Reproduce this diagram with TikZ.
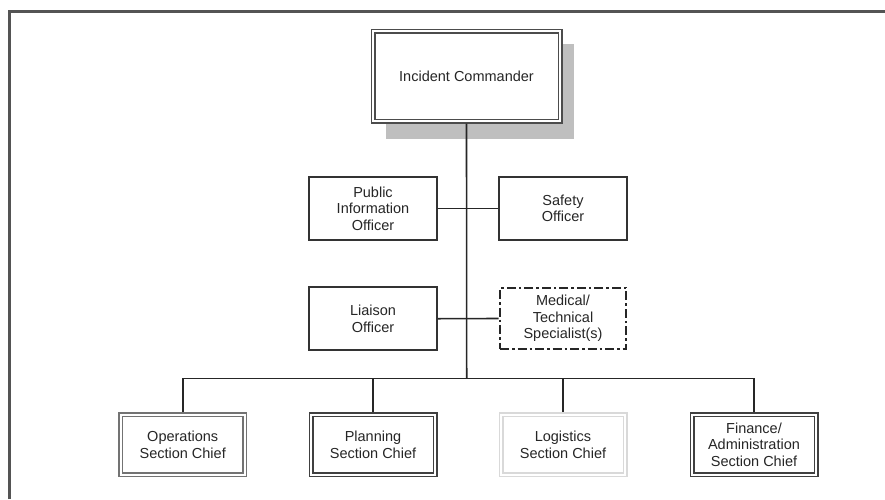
\documentclass[tikz,border=0pt]{standalone}
\usepackage{fontspec}
\setmainfont{Liberation Sans}
\begin{document}
\begin{tikzpicture}[x=1pt,y=-1pt,
  lbl/.style={align=center,text=black!85,font=\fontsize{14.5}{16.5}\selectfont,inner sep=0pt},
  plainbox/.style={lbl,draw=black!80,line width=1.5pt,fill=white,minimum width=128pt,minimum height=63pt},
  medbox/.style={lbl,draw=black!85,line width=2.8pt,dash pattern=on 9pt off 3pt on 2.5pt off 3pt,minimum width=126pt,minimum height=61pt},
  dbox/.style={lbl,fill=white,line width=1.3pt,double=white,double distance=2.4pt,outer sep=2.5pt},
  chiefbox/.style={dbox,minimum width=124pt,minimum height=60pt},
  link/.style={draw=black!85,line width=1.6pt}]
\useasboundingbox (0,0) rectangle (885,499);
% frame
\draw[black!67,line width=3pt] (9.5,499) -- (9.5,11.3) -- (885,11.3);
% shadow and commander
\fill[black!25] (386,44) rectangle (574,139);
\node[dbox,draw=black!70,minimum width=187pt,minimum height=90pt] (ic) at (466.5,76) {Incident Commander};
% command staff
\node[plainbox] (pio) at (373,208.5) {Public\\Information\\Officer};
\node[plainbox] (safe) at (563,208.5) {Safety\\Officer};
\node[plainbox] (liai) at (373,318.7) {Liaison\\Officer};
\node[medbox] (med) at (563,318.5) {Medical/\\Technical\\Specialist(s)};
% general staff
\node[chiefbox,draw=black!55] (ops) at (182.7,444.7) {Operations\\Section Chief};
\node[chiefbox,draw=black!75] (plan) at (373,444.7) {Planning\\Section Chief};
\node[chiefbox,draw=black!15] (logi) at (563,444.7) {Logistics\\Section Chief};
\node[chiefbox,draw=black!75] (fin) at (754,444.7) {Finance/\\Administration\\Section Chief};
% connectors
\coordinate (bus) at (466.7,378.3);
\draw[link] (ic.south) -- (bus);
\draw[link] (pio.east) -- (safe.west);
\draw[link] (liai.east) -- (med.west);
\draw[link] (ops.north) |- (bus) -| (fin.north);
\draw[link] (plan.north) -- (plan.north |- bus);
\draw[link] (logi.north) -- (logi.north |- bus);
\end{tikzpicture}
\end{document}
